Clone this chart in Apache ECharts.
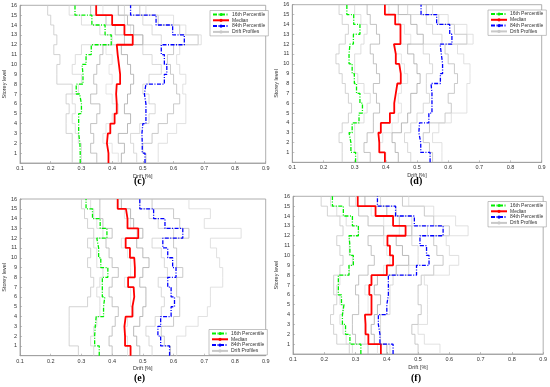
<!DOCTYPE html>
<html><head><meta charset="utf-8">
<script src="https://cdn.jsdelivr.net/npm/echarts@6/dist/echarts.min.js"></script>
<style>html,body{margin:0;padding:0;background:#fff}#c{width:550px;height:387px}</style>
</head><body><div id="c"></div>
<script>
// ---- tick labels ----
const xTickValues = [0.1,0.2,0.3,0.4,0.5,0.6,0.7,0.8,0.9];
const yTickValues = [1,2,3,4,5,6,7,8,9,10,11,12,13,14,15,16];
const legendNames = ['16th Percentile','Median','84th Percentile','Drift Profiles'];

// ---- panel (c): drift per storey 1..16 ----
const c_p16 = [0.296,0.295,0.291,0.291,0.291,0.300,0.294,0.283,0.305,0.302,0.315,0.332,0.397,0.377,0.334,0.279];
const c_median = [0.388,0.383,0.386,0.394,0.408,0.415,0.413,0.415,0.426,0.422,0.418,0.415,0.467,0.440,0.400,0.348];
const c_p84 = [0.507,0.498,0.497,0.500,0.510,0.510,0.505,0.510,0.570,0.578,0.570,0.560,0.635,0.597,0.543,0.460];
const c_prof1 = [0.27,0.27,0.27,0.25,0.25,0.26,0.25,0.27,0.22,0.22,0.23,0.21,0.22,0.21,0.20,0.19];
const c_prof2 = [0.30,0.30,0.29,0.28,0.27,0.28,0.27,0.29,0.30,0.27,0.28,0.30,0.40,0.36,0.30,0.26];
const c_prof3 = [0.35,0.33,0.34,0.33,0.35,0.36,0.33,0.35,0.34,0.35,0.36,0.37,0.44,0.41,0.38,0.33];
const c_prof4 = [0.42,0.40,0.37,0.38,0.40,0.42,0.40,0.38,0.40,0.39,0.40,0.38,0.50,0.46,0.44,0.37];
const c_prof5 = [0.43,0.44,0.42,0.45,0.46,0.44,0.45,0.46,0.47,0.46,0.45,0.43,0.50,0.47,0.45,0.42];
const c_prof6 = [0.48,0.47,0.46,0.49,0.52,0.54,0.52,0.50,0.52,0.56,0.53,0.50,0.56,0.53,0.50,0.44];
const c_prof7 = [0.51,0.50,0.53,0.55,0.58,0.60,0.62,0.61,0.60,0.59,0.58,0.60,0.68,0.62,0.55,0.49];
const c_prof8 = [0.55,0.55,0.58,0.61,0.64,0.64,0.64,0.63,0.64,0.62,0.61,0.62,0.69,0.64,0.60,0.51];

// ---- panel (d) ----
const d_p16 = [0.303,0.288,0.282,0.292,0.314,0.325,0.317,0.306,0.299,0.292,0.282,0.285,0.296,0.317,0.297,0.275];
const d_median = [0.397,0.379,0.376,0.384,0.413,0.427,0.432,0.437,0.448,0.443,0.432,0.426,0.447,0.447,0.430,0.397];
const d_p84 = [0.542,0.512,0.506,0.508,0.538,0.548,0.548,0.545,0.575,0.582,0.578,0.574,0.612,0.605,0.563,0.513];
const d_prof1 = [0.26,0.26,0.25,0.26,0.28,0.29,0.28,0.27,0.26,0.25,0.24,0.25,0.27,0.28,0.26,0.25];
const d_prof2 = [0.31,0.30,0.30,0.30,0.33,0.34,0.35,0.33,0.31,0.30,0.30,0.32,0.33,0.34,0.32,0.30];
const d_prof3 = [0.35,0.33,0.34,0.36,0.36,0.38,0.37,0.36,0.38,0.37,0.36,0.35,0.38,0.37,0.35,0.34];
const d_prof4 = [0.40,0.38,0.39,0.42,0.44,0.45,0.44,0.45,0.47,0.46,0.45,0.43,0.48,0.46,0.44,0.41];
const d_prof5 = [0.44,0.43,0.42,0.45,0.47,0.48,0.48,0.50,0.51,0.50,0.49,0.47,0.52,0.50,0.48,0.44];
const d_prof6 = [0.48,0.47,0.46,0.48,0.50,0.52,0.54,0.53,0.53,0.55,0.54,0.52,0.58,0.55,0.53,0.47];
const d_prof7 = [0.55,0.54,0.52,0.54,0.59,0.61,0.60,0.62,0.63,0.62,0.60,0.59,0.66,0.62,0.57,0.53];
const d_prof8 = [0.58,0.58,0.55,0.57,0.61,0.66,0.66,0.66,0.67,0.67,0.65,0.63,0.68,0.66,0.60,0.55];

// ---- panel (e) ----
const e_p16 = [0.358,0.343,0.345,0.348,0.372,0.376,0.368,0.368,0.386,0.363,0.356,0.350,0.383,0.361,0.336,0.315];
const e_median = [0.460,0.442,0.440,0.444,0.466,0.472,0.470,0.452,0.474,0.472,0.458,0.444,0.485,0.450,0.445,0.418];
const e_p84 = [0.587,0.558,0.549,0.558,0.592,0.603,0.592,0.581,0.608,0.597,0.581,0.565,0.630,0.572,0.535,0.490];
const e_prof1 = [0.29,0.26,0.26,0.26,0.26,0.32,0.33,0.34,0.33,0.32,0.33,0.32,0.34,0.32,0.31,0.30];
const e_prof2 = [0.34,0.33,0.34,0.35,0.36,0.36,0.35,0.36,0.37,0.35,0.35,0.34,0.37,0.35,0.34,0.33];
const e_prof3 = [0.40,0.39,0.40,0.41,0.42,0.40,0.39,0.40,0.42,0.40,0.39,0.38,0.40,0.37,0.36,0.36];
const e_prof4 = [0.45,0.45,0.44,0.45,0.47,0.46,0.46,0.44,0.46,0.46,0.45,0.43,0.48,0.46,0.44,0.42];
const e_prof5 = [0.49,0.48,0.47,0.49,0.50,0.51,0.51,0.49,0.50,0.52,0.50,0.48,0.50,0.47,0.46,0.43];
const e_prof6 = [0.53,0.52,0.51,0.54,0.56,0.57,0.56,0.55,0.58,0.57,0.56,0.53,0.60,0.55,0.52,0.49];
const e_prof7 = [0.59,0.57,0.56,0.60,0.62,0.62,0.61,0.61,0.63,0.61,0.61,0.60,0.65,0.62,0.60,0.53];
const e_prof8 = [0.61,0.61,0.64,0.68,0.71,0.72,0.72,0.76,0.76,0.75,0.74,0.72,0.82,0.70,0.72,0.65];

// ---- panel (f) ----
const f_p16 = [0.317,0.282,0.268,0.258,0.263,0.255,0.245,0.245,0.279,0.293,0.282,0.279,0.309,0.290,0.261,0.226];
const f_median = [0.381,0.341,0.332,0.330,0.351,0.351,0.344,0.351,0.400,0.420,0.410,0.402,0.460,0.420,0.364,0.307];
const f_p84 = [0.420,0.378,0.373,0.373,0.400,0.405,0.405,0.405,0.495,0.535,0.527,0.506,0.580,0.488,0.428,0.370];
const f_prof1 = [0.28,0.24,0.23,0.22,0.23,0.24,0.23,0.23,0.25,0.26,0.25,0.24,0.26,0.25,0.21,0.19];
const f_prof2 = [0.29,0.27,0.26,0.25,0.26,0.25,0.24,0.25,0.28,0.29,0.28,0.28,0.31,0.27,0.24,0.22];
const f_prof3 = [0.34,0.30,0.29,0.29,0.31,0.31,0.30,0.31,0.34,0.36,0.35,0.34,0.39,0.34,0.31,0.28];
const f_prof4 = [0.37,0.33,0.33,0.33,0.34,0.34,0.33,0.35,0.39,0.41,0.40,0.39,0.44,0.39,0.35,0.30];
const f_prof5 = [0.40,0.36,0.35,0.36,0.37,0.38,0.36,0.37,0.43,0.47,0.45,0.43,0.48,0.44,0.40,0.33];
const f_prof6 = [0.41,0.38,0.38,0.38,0.41,0.41,0.41,0.42,0.47,0.50,0.50,0.48,0.53,0.48,0.43,0.38];
const f_prof7 = [0.50,0.49,0.48,0.50,0.51,0.50,0.50,0.51,0.55,0.58,0.56,0.55,0.60,0.55,0.52,0.45];
const f_prof8 = [0.57,0.52,0.50,0.53,0.53,0.53,0.53,0.52,0.60,0.63,0.60,0.59,0.66,0.62,0.55,0.47];

const panels = [
  {label:'(c)', p16:c_p16, med:c_median, p84:c_p84,
   profiles:[c_prof1,c_prof2,c_prof3,c_prof4,c_prof5,c_prof6,c_prof7,c_prof8],
   grid:{left:17.3, top:5.3, width:248.4, height:157.7}, legend:{left:210, top:10.5}, lab:[141,182]},
  {label:'(d)', p16:d_p16, med:d_median, p84:d_p84,
   profiles:[d_prof1,d_prof2,d_prof3,d_prof4,d_prof5,d_prof6,d_prof7,d_prof8],
   grid:{left:292.3, top:4.7, width:249.4, height:157.6}, legend:{left:488, top:10}, lab:[417,182]},
  {label:'(e)', p16:e_p16, med:e_median, p84:e_p84,
   profiles:[e_prof1,e_prof2,e_prof3,e_prof4,e_prof5,e_prof6,e_prof7,e_prof8],
   grid:{left:17.3, top:199, width:248.4, height:156.7}, legend:{left:209, top:329.5}, lab:[141,379]},
  {label:'(f)', p16:f_p16, med:f_median, p84:f_p84,
   profiles:[f_prof1,f_prof2,f_prof3,f_prof4,f_prof5,f_prof6,f_prof7,f_prof8],
   grid:{left:293, top:196.3, width:250.3, height:157.7}, legend:{left:488, top:201.5}, lab:[418,379]}
];

const grays = ['#c8c8c8','#d6d6d6','#b4b4b4','#dedede','#a8a8a8','#cfcfcf','#bdbdbd','#d9d9d9'];
const dashDot = [4,1.5,1,1.5];

function stairs(vals){
  const pts = [];
  vals.forEach((v,i)=>{ pts.push([v, i]); pts.push([v, i+1]); });
  return pts;
}

const grid=[], xAxis=[], yAxis=[], series=[], legend=[], graphic=[];
panels.forEach((p,k)=>{
  grid.push(Object.assign({show:true, borderColor:'#9a9a9a', borderWidth:0.8, backgroundColor:'#fff'}, p.grid));
  xAxis.push({type:'value', gridIndex:k, min:0.1, max:0.9, interval:0.1,
    name:'Drift [%]', nameLocation:'middle', nameGap:10,
    nameTextStyle:{fontSize:5.5, color:'#333', fontFamily:'Liberation Sans'},
    axisLine:{show:true, lineStyle:{color:'#9a9a9a', width:0.8}},
    axisTick:{show:true, inside:true, length:2, lineStyle:{color:'#9a9a9a', width:0.6}},
    splitLine:{show:false},
    axisLabel:{fontSize:5.5, color:'#333', margin:2.5, fontFamily:'Liberation Sans',
      formatter:v=>{const t=xTickValues.find(a=>Math.abs(a-v)<1e-6); return t===undefined?'':t.toFixed(1);}}});
  yAxis.push({type:'value', gridIndex:k, min:0, max:16, interval:1,
    name:'Storey level', nameLocation:'middle', nameGap:12,
    nameTextStyle:{fontSize:5.5, color:'#333', fontFamily:'Liberation Sans'},
    axisLine:{show:true, lineStyle:{color:'#9a9a9a', width:0.8}},
    axisTick:{show:true, inside:true, length:2, lineStyle:{color:'#9a9a9a', width:0.6}},
    splitLine:{show:false},
    axisLabel:{fontSize:5.5, color:'#333', margin:3, fontFamily:'Liberation Sans',
      formatter:v=>yTickValues.includes(Math.round(v)) && Math.abs(v-Math.round(v))<1e-6 ? String(Math.round(v)) : ''}});
  p.profiles.forEach((pr,j)=>{
    series.push({type:'line', name:'Drift Profiles', xAxisIndex:k, yAxisIndex:k, data:stairs(pr),
      symbol:'none', lineStyle:{color:grays[j], width:0.8}, itemStyle:{color:grays[j]}, z:1});
  });
  series.push({type:'line', name:'16th Percentile', xAxisIndex:k, yAxisIndex:k, data:stairs(p.p16),
    symbol:'none', lineStyle:{color:'#00ee00', width:1.3, type:dashDot}, itemStyle:{color:'#00ee00'}, z:3});
  series.push({type:'line', name:'Median', xAxisIndex:k, yAxisIndex:k, data:stairs(p.med),
    symbol:'none', lineStyle:{color:'#ff0000', width:1.8}, itemStyle:{color:'#ff0000'}, z:3});
  series.push({type:'line', name:'84th Percentile', xAxisIndex:k, yAxisIndex:k, data:stairs(p.p84),
    symbol:'none', lineStyle:{color:'#0000ff', width:1.3, type:dashDot}, itemStyle:{color:'#0000ff'}, z:3});
  legend.push({data:legendNames, orient:'vertical', left:p.legend.left, top:p.legend.top,
    itemWidth:16, itemHeight:4, itemGap:0.8, padding:[1.5,3,1.5,2],
    backgroundColor:'#fff', borderColor:'#9a9a9a', borderWidth:0.6,
    textStyle:{fontSize:5, color:'#333', fontFamily:'Liberation Sans', padding:[0,0,0,-2]}, selectedMode:false});
  graphic.push({type:'text', left:p.lab[0]-7, top:p.lab[1]-6,
    style:{text:p.label, font:'bold 10px "Liberation Serif"', fill:'#000'}});
});

const chart = echarts.init(document.getElementById('c'), null, {renderer:'canvas'});
chart.setOption({animation:false, backgroundColor:'#fff', grid, xAxis, yAxis, series, legend, graphic});
</script></body></html>
